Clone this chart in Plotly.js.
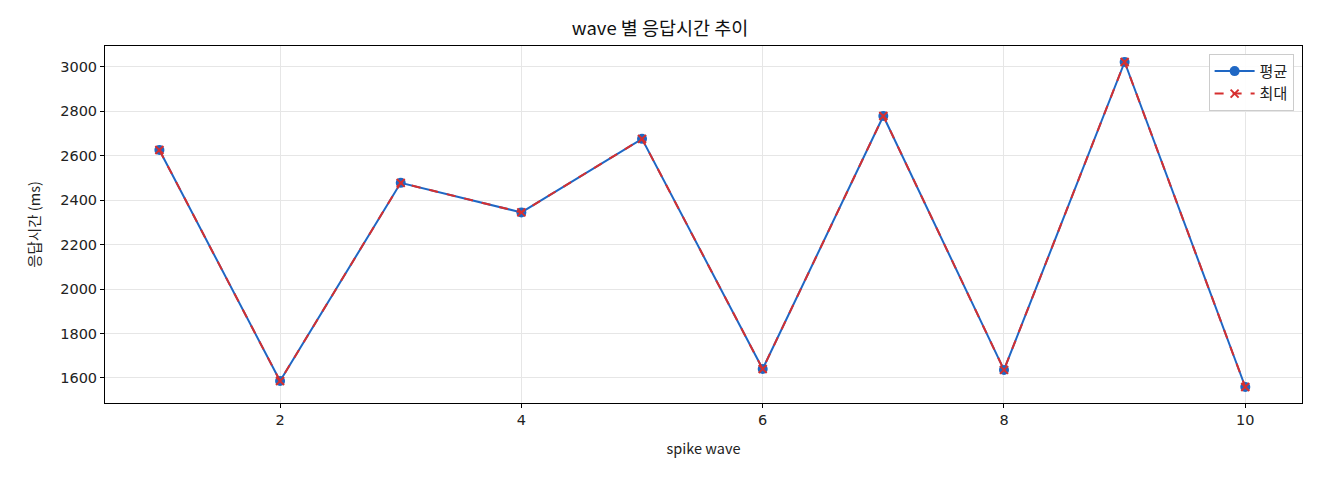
<!DOCTYPE html>
<html><head><meta charset="utf-8">
<script src="https://cdn.plot.ly/plotly-3.0.1.min.js"></script>
<style>html,body{margin:0;padding:0;background:#fff}#c{width:1320px;height:480px}</style>
</head><body><div id="c"></div>
<script>
const waves = [1,2,3,4,5,6,7,8,9,10];
const avgMs = [2626,1586,2478,2345,2676,1640,2779,1636,3022,1559];
const maxMs = [2626,1586,2478,2345,2676,1640,2779,1636,3022,1559];
const font = "'Noto Sans CJK KR', 'Noto Sans', sans-serif";
const tickFont = {family: "'DejaVu Sans', sans-serif", size: 14.5, color: '#222'};
const data = [
  {x: waves, y: avgMs, name: '평균', mode: 'lines+markers', type: 'scatter',
   line: {color: '#1f67c4', width: 2}, marker: {symbol: 'circle', size: 10, color: '#1f67c4'}},
  {x: waves, y: maxMs, name: '최대', mode: 'lines+markers', type: 'scatter',
   line: {color: '#d62f2f', width: 2, dash: 'dash'}, marker: {symbol: 'x-thin', size: 8, line: {color: '#d62f2f', width: 2}, color: '#d62f2f'}}
];
const layout = {
  width: 1320, height: 480,
  margin: {l: 105, r: 18, t: 46, b: 77},
  paper_bgcolor: '#fff', plot_bgcolor: '#fff',
  font: {family: font, size: 14, color: '#222'},
  title: {text: 'wave 별 응답시간 추이', x: 0.5, xanchor: 'center', y: 0.94, yanchor: 'middle', font: {size: 18.5, family: font, color: '#111'}},
  xaxis: {title: {text: 'spike wave', font: {size: 14.5}, standoff: 16}, range: [0.549, 10.47], tickvals: [2,4,6,8,10],
    tickfont: tickFont,
    showgrid: true, gridcolor: '#e6e6e6', zeroline: false, showline: true, linecolor: '#000', mirror: true,
    ticks: 'outside', ticklen: 4, tickcolor: '#000'},
  yaxis: {title: {text: '응답시간 (ms)', font: {size: 14.5}, standoff: 16}, range: [1487, 3094], tickvals: [1600,1800,2000,2200,2400,2600,2800,3000],
    tickfont: tickFont,
    showgrid: true, gridcolor: '#e6e6e6', zeroline: false, showline: true, linecolor: '#000', mirror: true,
    ticks: 'outside', ticklen: 4, tickcolor: '#000'},
  legend: {x: 0.993, y: 0.978, xanchor: 'right', yanchor: 'top', bgcolor: 'rgba(255,255,255,0.9)', bordercolor: '#ccc', borderwidth: 1, font: {size: 15}, itemwidth: 40, tracegroupgap: 6},
  showlegend: true
};
Plotly.newPlot('c', data, layout, {displayModeBar: false});
</script></body></html>
